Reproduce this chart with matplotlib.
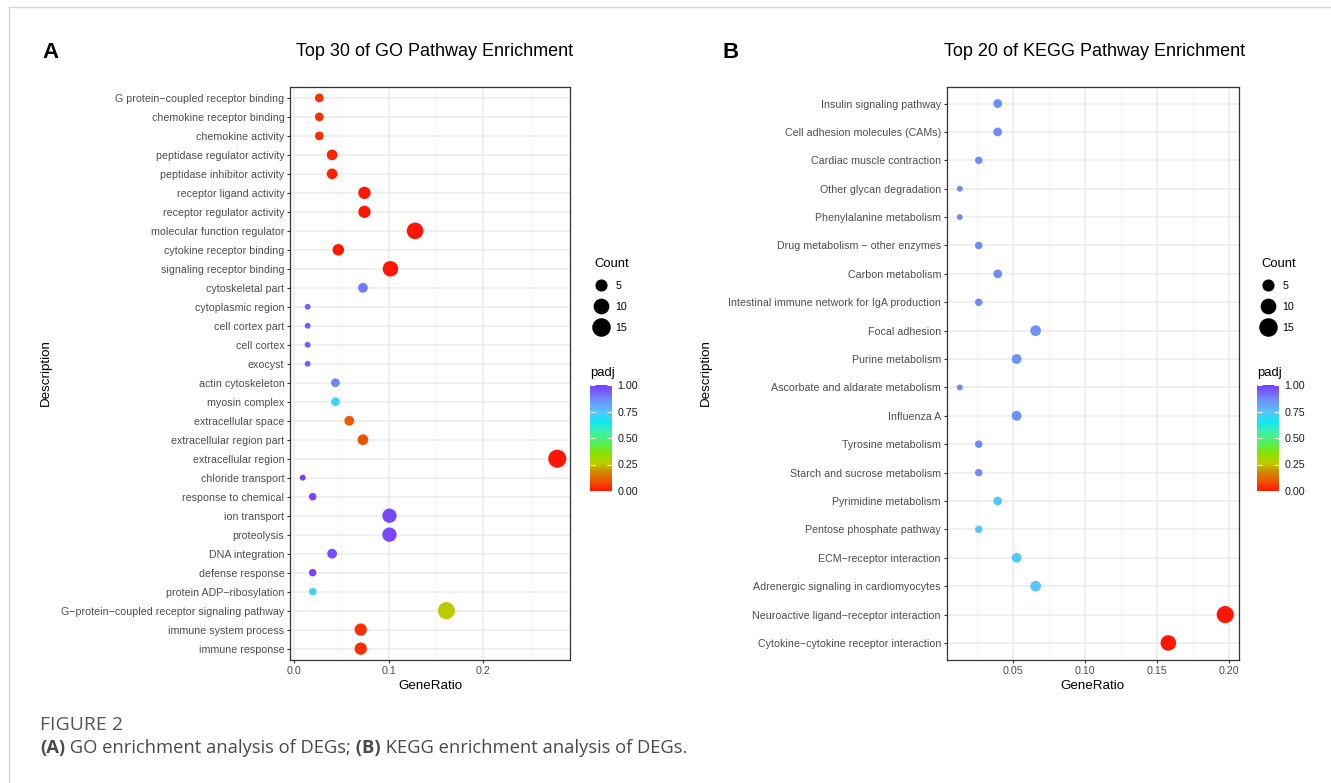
import numpy as np
import matplotlib
matplotlib.use("Agg")
import matplotlib.pyplot as plt
from matplotlib.colors import LinearSegmentedColormap, Normalize
from matplotlib.cm import ScalarMappable
from matplotlib.lines import Line2D

plt.rcParams['font.family'] = ['Liberation Sans', 'DejaVu Sans']

# ---------------- data (top row first) ----------------
go_terms = [
    "G protein\u2212coupled receptor binding", "chemokine receptor binding", "chemokine activity",
    "peptidase regulator activity", "peptidase inhibitor activity", "receptor ligand activity",
    "receptor regulator activity", "molecular function regulator", "cytokine receptor binding",
    "signaling receptor binding", "cytoskeletal part", "cytoplasmic region", "cell cortex part",
    "cell cortex", "exocyst", "actin cytoskeleton", "myosin complex", "extracellular space",
    "extracellular region part", "extracellular region", "chloride transport", "response to chemical",
    "ion transport", "proteolysis", "DNA integration", "defense response", "protein ADP\u2212ribosylation",
    "G\u2212protein\u2212coupled receptor signaling pathway", "immune system process", "immune response",
]
go_ratio = [0.027, 0.027, 0.027, 0.0405, 0.0405, 0.0746, 0.0746, 0.128, 0.047, 0.102,
            0.073, 0.0147, 0.0147, 0.0147, 0.0147, 0.044, 0.044, 0.0586, 0.073, 0.278,
            0.0095, 0.020, 0.101, 0.101, 0.0405, 0.020, 0.020, 0.161, 0.0707, 0.0707]
go_count = [3, 3, 3, 5, 5, 7, 7, 14, 6, 12,
            4, 1, 1, 1, 1, 3, 3, 4, 5, 17,
            1, 2, 10, 10, 4, 2, 2, 15, 7, 7]
go_padj = [0.04, 0.04, 0.04, 0.02, 0.02, 0.002, 0.002, 0.001, 0.005, 0.001,
           0.89, 0.94, 0.94, 0.94, 0.94, 0.87, 0.71, 0.10, 0.09, 0.0,
           1.0, 0.99, 0.98, 0.98, 0.97, 0.99, 0.71, 0.26, 0.04, 0.04]

kegg_terms = [
    "Insulin signaling pathway", "Cell adhesion molecules (CAMs)", "Cardiac muscle contraction",
    "Other glycan degradation", "Phenylalanine metabolism", "Drug metabolism \u2212 other enzymes",
    "Carbon metabolism", "Intestinal immune network for IgA production", "Focal adhesion",
    "Purine metabolism", "Ascorbate and aldarate metabolism", "Influenza A", "Tyrosine metabolism",
    "Starch and sucrose metabolism", "Pyrimidine metabolism", "Pentose phosphate pathway",
    "ECM\u2212receptor interaction", "Adrenergic signaling in cardiomyocytes",
    "Neuroactive ligand\u2212receptor interaction", "Cytokine\u2212cytokine receptor interaction",
]
kegg_count = [3, 3, 2, 1, 1, 2, 3, 2, 5, 4, 1, 4, 2, 2, 3, 2, 4, 5, 15, 12]
kegg_ratio = [c / 76 for c in kegg_count]
kegg_padj = [0.86, 0.86, 0.86, 0.86, 0.86, 0.86, 0.86, 0.86, 0.85, 0.85,
             0.86, 0.85, 0.86, 0.86, 0.74, 0.74, 0.74, 0.74, 0.0, 0.0]

legend_counts = [5, 10, 15]
cbar_ticks = [0.0, 0.25, 0.5, 0.75, 1.0]

# ---------------- figure ----------------
W, H = 1331, 783
fig = plt.figure(figsize=(W / 100, H / 100), dpi=100)


def fx(px):
    return px / W


def fy(py):
    return 1 - py / H


padj_cmap = LinearSegmentedColormap.from_list("padj", [
    (0.0, "#ff1500"), (0.1, "#ee5a00"), (0.19, "#cc9000"), (0.26, "#bccc00"),
    (0.36, "#84e400"), (0.46, "#50f060"), (0.56, "#40f0a8"), (0.65, "#10e8f0"),
    (0.74, "#55c8fa"), (0.86, "#6c8ef8"), (1.0, "#7b3cff")])
norm = Normalize(0, 1)


def dot_diam(count):
    # pixel diameter of a dot for a given count
    return 2 + 3.9 * np.sqrt(count)


def draw_panel(left, right, terms, ratio, count, padj, ticks, ticklabels, minor):
    top, bottom = 86.5, 660
    ax = fig.add_axes([fx(left), fy(bottom), fx(right - left), (bottom - top) / H])
    n = len(terms)
    ypos = np.arange(n)[::-1]
    d = dot_diam(np.array(count))
    ax.scatter(ratio, ypos, s=(d * 0.72) ** 2, c=padj, cmap=padj_cmap, norm=norm,
               linewidths=0, zorder=3)
    lo, hi = min(ratio), max(ratio)
    span = hi - lo
    ax.set_xlim(lo - 0.05 * span, hi + 0.05 * span)
    ax.set_ylim(-0.6, n - 0.4)
    ax.set_yticks(ypos)
    ax.set_yticklabels(terms)
    ax.set_xticks(ticks)
    ax.set_xticklabels(ticklabels)
    ax.set_xticks(minor, minor=True)
    ax.tick_params(which="major", length=2.4, width=0.8, color="#333333",
                   labelsize=7.7, labelcolor="#4d4d4d", pad=1.6)
    ax.tick_params(which="minor", length=0)
    ax.grid(which="major", color="#ebebeb", lw=1.1, zorder=0)
    ax.grid(which="minor", axis="x", color="#f2f2f2", lw=0.55, zorder=0)
    ax.set_axisbelow(True)
    for sp in ax.spines.values():
        sp.set_color("#333333")
        sp.set_linewidth(0.9)
    cx = (left + right) / 2
    fig.text(fx(cx), fy(686), "GeneRatio", ha="center", va="center", fontsize=9.6)
    return ax


def draw_legends(x0):
    handles = [Line2D([], [], marker="o", ls="", color="black", markersize=dot_diam(c) * 0.72)
               for c in legend_counts]
    fig.legend(handles, [str(c) for c in legend_counts], title="Count", loc="upper left",
               bbox_to_anchor=(fx(x0 + 4), fy(258)), frameon=False, fontsize=7.7,
               title_fontsize=9.4, alignment="left", handletextpad=0.7, labelspacing=1.03,
               borderpad=0, borderaxespad=0, handlelength=1.3)
    fig.text(fx(x0), fy(373), "padj", ha="left", va="center", fontsize=9.4)
    cax = fig.add_axes([fx(x0), fy(491), fx(22), 106 / H])
    cb = fig.colorbar(ScalarMappable(norm=norm, cmap=padj_cmap), cax=cax, ticks=cbar_ticks)
    cb.outline.set_visible(False)
    cb.ax.set_yticklabels([f"{t:.2f}" for t in cbar_ticks])
    cax.yaxis.set_ticks_position("both")
    cax.tick_params(direction="in", length=3.5, width=0.8, color="white",
                    labelsize=7.7, labelcolor="#1a1a1a", labelleft=False, labelright=True, pad=4)


# panel A
draw_panel(290, 570, go_terms, go_ratio, go_count, go_padj,
           [0.0, 0.1, 0.2], ["0.0", "0.1", "0.2"], [0.05, 0.15, 0.25])
fig.text(fx(46), fy(373), "Description", rotation=90, ha="center", va="center", fontsize=9.6)
fig.text(fx(435), fy(52), "Top 30 of GO Pathway Enrichment", ha="center", va="center", fontsize=13)
fig.text(fx(51), fy(53), "A", ha="center", va="center", fontsize=16, fontweight="bold")
draw_legends(590)

# panel B
draw_panel(946.5, 1238.5, kegg_terms, kegg_ratio, kegg_count, kegg_padj,
           [0.05, 0.10, 0.15, 0.20], ["0.05", "0.10", "0.15", "0.20"], [0.025, 0.075, 0.125, 0.175])
fig.text(fx(706), fy(373), "Description", rotation=90, ha="center", va="center", fontsize=9.6)
fig.text(fx(1095), fy(52), "Top 20 of KEGG Pathway Enrichment", ha="center", va="center", fontsize=13)
fig.text(fx(731), fy(53), "B", ha="center", va="center", fontsize=16, fontweight="bold")
draw_legends(1257)

# frame lines of the figure box
fig.add_artist(Line2D([fx(9), fx(9)], [fy(7), 0], transform=fig.transFigure, color="#d4d4d4", lw=1))
fig.add_artist(Line2D([fx(9), 1], [fy(7), fy(7)], transform=fig.transFigure, color="#d4d4d4", lw=1))

# caption
fig.text(fx(40), fy(725), "FIGURE 2", ha="left", va="center", fontsize=14,
         family="Open Sans", color="#555555")
r = fig.canvas.get_renderer()
x = fx(40)
for txt, wt in [("(A)", "bold"), (" GO enrichment analysis of DEGs;", "normal"),
                (" (B)", "bold"), (" KEGG enrichment analysis of DEGs.", "normal")]:
    t = fig.text(x, fy(748), txt, ha="left", va="center", fontsize=13.2,
                 family="Open Sans", fontweight=wt, color="#4a4a4a")
    bb = t.get_window_extent(renderer=r)
    x = bb.x1 / W

fig.savefig("out.png", dpi=100)
